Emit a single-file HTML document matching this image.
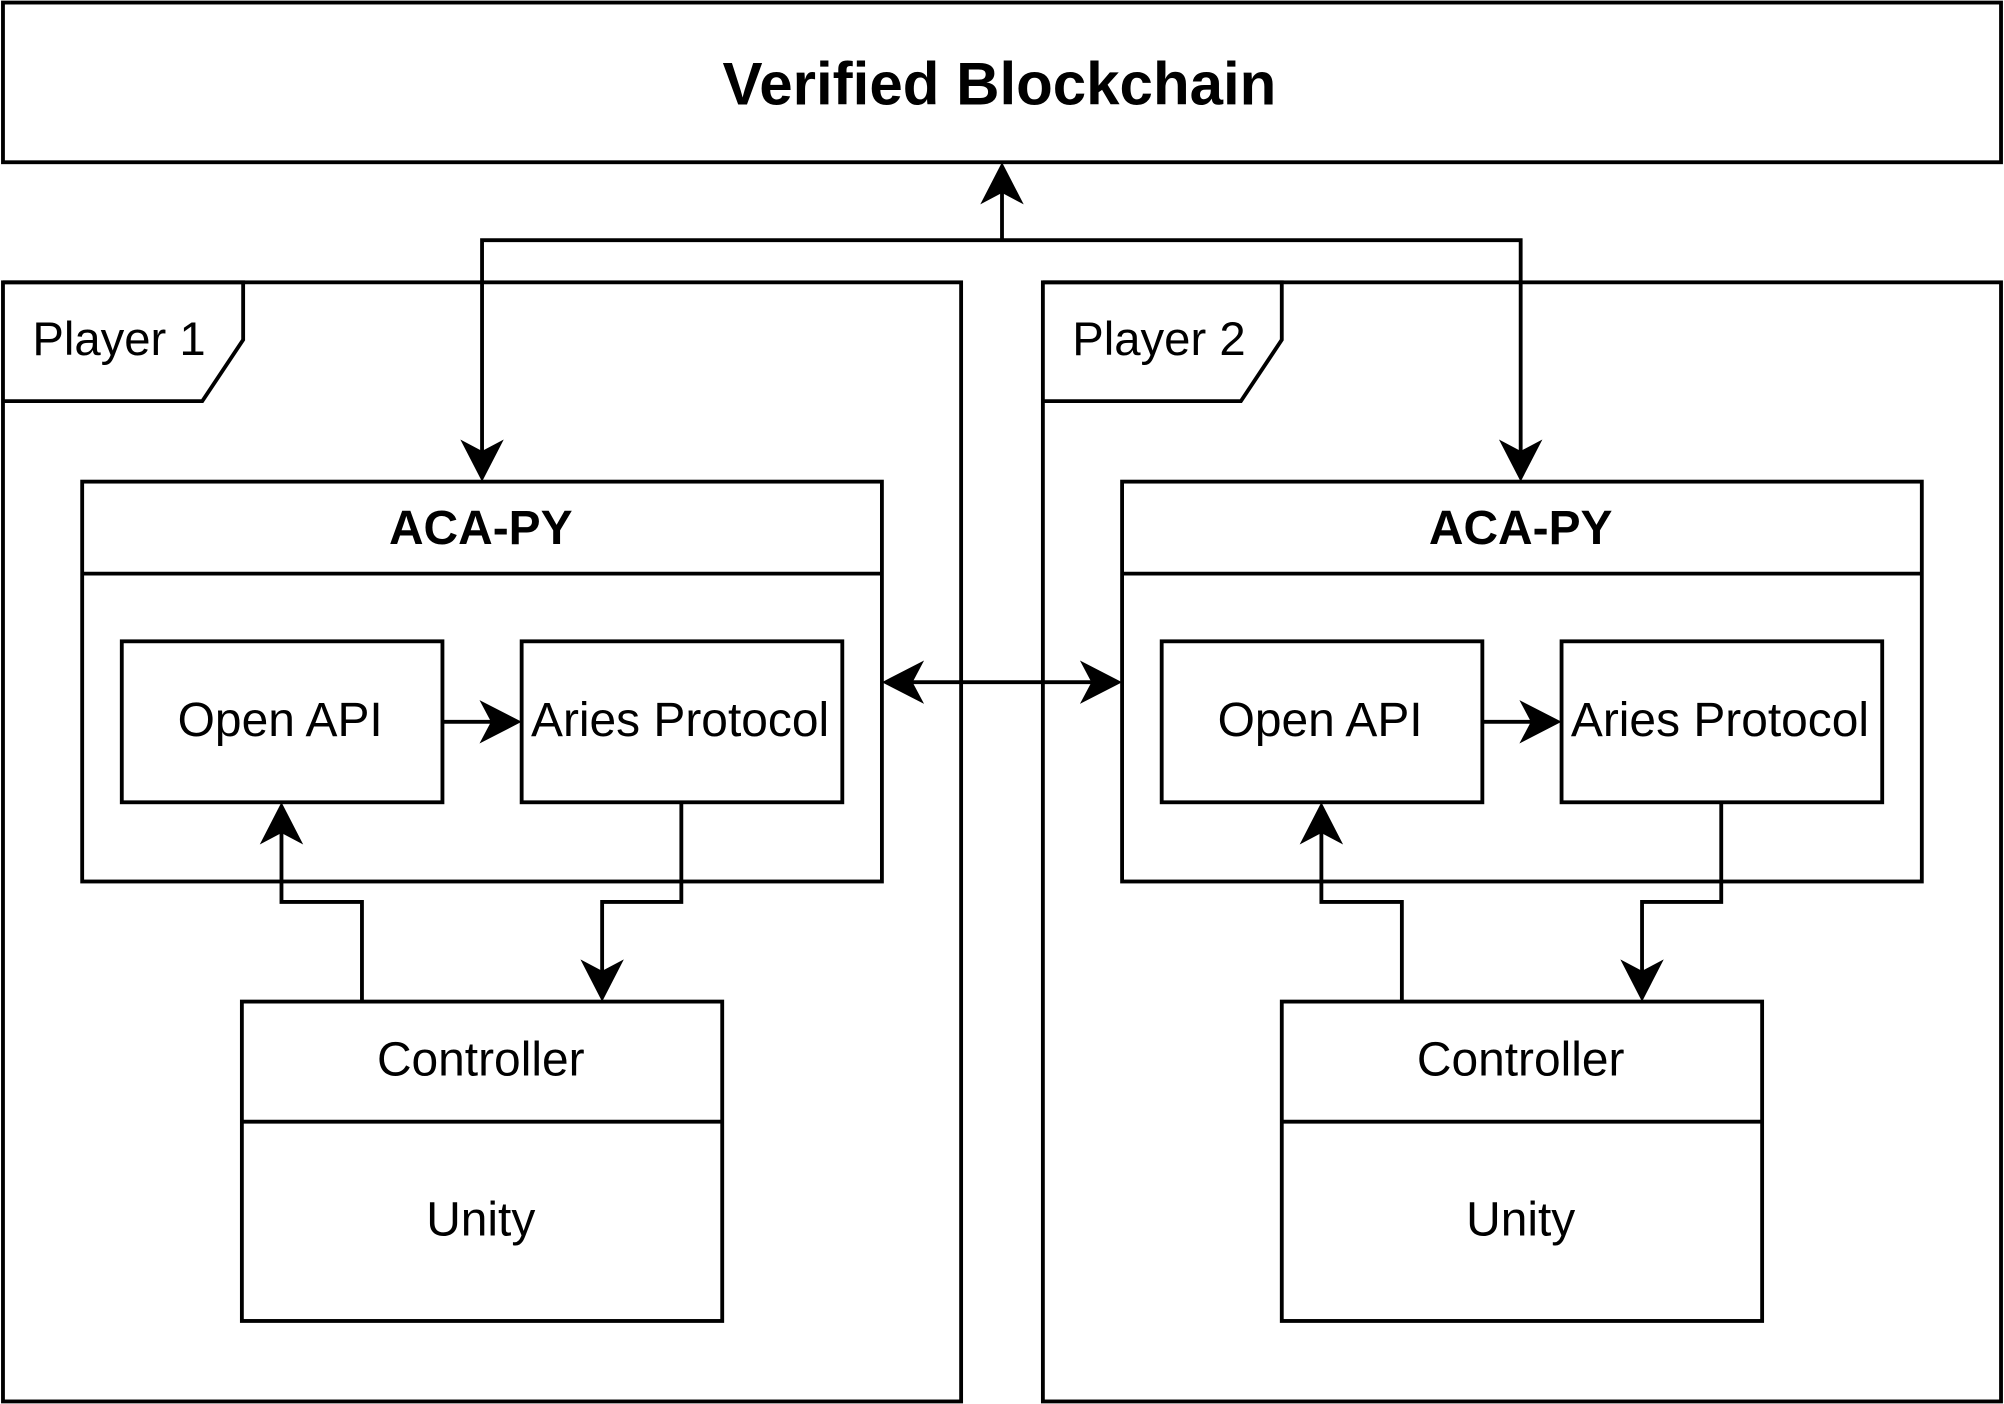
<!DOCTYPE html>
<html><head><style>html,body{margin:0;padding:0;background:#fff}svg{display:block}</style></head>
<body>
<svg width="2004" height="1404" viewBox="0 0 1568 1099" xmlns="http://www.w3.org/2000/svg" font-family="Liberation Sans, Arial, sans-serif">
<defs>
<path id="ah" d="M0,0 L-17,-33 L0,-24 L17,-33 Z" fill="#000"/>
</defs>
<rect width="1568" height="1099" fill="#fff"/>
<g fill="none" stroke="#000" stroke-width="3">
<rect x="2" y="2" width="1564" height="125"/>
<polyline points="784,188 784,140"/>
<polyline points="377,360 377,188 1190,188 1190,360"/>
<line x1="705" y1="534" x2="863" y2="534"/>
</g>
<use href="#ah" transform="translate(784,127) rotate(180)"/>
<use href="#ah" transform="translate(377,377)"/>
<use href="#ah" transform="translate(1190,377)"/>
<use href="#ah" transform="translate(690,534) rotate(90)"/>
<use href="#ah" transform="translate(878,534) rotate(-90)"/>
<text x="782" y="82" text-anchor="middle" font-size="47" font-weight="bold">Verified Blockchain</text>

<g id="p1">
<g fill="none" stroke="#000" stroke-width="3">
<rect x="2" y="221" width="750" height="876"/>
<polyline points="2,221 190,221 190,266 158,314 2,314"/>
<rect x="64" y="377" width="626" height="313"/>
<line x1="64" y1="449" x2="690" y2="449"/>
<rect x="95" y="502" width="251" height="126"/>
<rect x="408" y="502" width="251" height="126"/>
<rect x="189" y="784" width="376" height="250"/>
<line x1="189" y1="878" x2="565" y2="878"/>
<line x1="346" y1="565" x2="395" y2="565"/>
<polyline points="283,784 283,706 220,706 220,645"/>
<polyline points="533,628 533,706 471,706 471,767"/>
</g>
<use href="#ah" transform="translate(408,565) rotate(-90)"/>
<use href="#ah" transform="translate(220,628) rotate(180)"/>
<use href="#ah" transform="translate(471,784)"/>
<text x="25" y="278" font-size="37">Player 1</text>
<text x="376" y="426" text-anchor="middle" font-size="37.5" font-weight="bold">ACA-PY</text>
<text x="219" y="576" text-anchor="middle" font-size="37.5">Open API</text>
<text x="532" y="576" text-anchor="middle" font-size="37.5">Aries Protocol</text>
<text x="376" y="842" text-anchor="middle" font-size="37.5">Controller</text>
<text x="376" y="967" text-anchor="middle" font-size="37.5">Unity</text>
</g>
<g transform="translate(814,0)">
<g fill="none" stroke="#000" stroke-width="3">
<rect x="2" y="221" width="750" height="876"/>
<polyline points="2,221 189,221 189,266 157,314 2,314"/>
<rect x="64" y="377" width="626" height="313"/>
<line x1="64" y1="449" x2="690" y2="449"/>
<rect x="95" y="502" width="251" height="126"/>
<rect x="408" y="502" width="251" height="126"/>
<rect x="189" y="784" width="376" height="250"/>
<line x1="189" y1="878" x2="565" y2="878"/>
<line x1="346" y1="565" x2="395" y2="565"/>
<polyline points="283,784 283,706 220,706 220,645"/>
<polyline points="533,628 533,706 471,706 471,767"/>
</g>
<use href="#ah" transform="translate(408,565) rotate(-90)"/>
<use href="#ah" transform="translate(220,628) rotate(180)"/>
<use href="#ah" transform="translate(471,784)"/>
<text x="25" y="278" font-size="37">Player 2</text>
<text x="376" y="426" text-anchor="middle" font-size="37.5" font-weight="bold">ACA-PY</text>
<text x="219" y="576" text-anchor="middle" font-size="37.5">Open API</text>
<text x="532" y="576" text-anchor="middle" font-size="37.5">Aries Protocol</text>
<text x="376" y="842" text-anchor="middle" font-size="37.5">Controller</text>
<text x="376" y="967" text-anchor="middle" font-size="37.5">Unity</text>
</g>
</svg>
</body></html>
